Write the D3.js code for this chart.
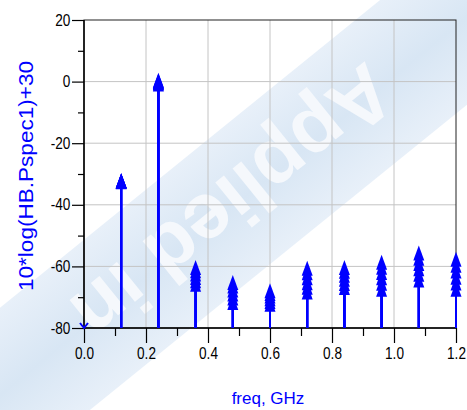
<!DOCTYPE html>
<html>
<head>
<meta charset="utf-8">
<script src="https://cdn.jsdelivr.net/npm/d3@7"></script>
<style>
  html, body { margin: 0; padding: 0; background: #fff; }
  svg { display: block; }
  .tick text { font-family: "Liberation Sans", Arial, sans-serif; font-size: 16px; fill: #000; }
</style>
</head>
<body>
<svg id="chart" width="467" height="410"></svg>
<script>
// harmonic frequencies (GHz) of the spectrum
const freqs = [0.12, 0.24, 0.36, 0.48, 0.60, 0.72, 0.84, 0.96, 1.08, 1.20];

// one row per swept value, dBm at each harmonic
const sweep1 = [-33.0, -0.4, -61.2, -66.0, -68.7, -61.4, -61.2, -59.5, -56.5, -58.5];
const sweep2 = [-33.0, -0.6, -62.2, -67.2, -69.6, -62.9, -62.4, -61.1, -58.2, -60.4];
const sweep3 = [-33.1, -0.8, -63.3, -68.5, -70.4, -64.5, -63.7, -62.8, -59.9, -62.3];
const sweep4 = [-33.1, -1.1, -64.4, -69.8, -71.3, -66.1, -65.0, -64.5, -61.6, -64.3];
const sweep5 = [-33.2, -1.3, -65.5, -71.1, -72.2, -67.6, -66.4, -66.3, -63.4, -66.2];
const sweep6 = [-33.3, -1.6, -66.6, -72.5, -73.1, -69.1, -67.7, -68.2, -65.2, -68.2];
const sweeps = [sweep1, sweep2, sweep3, sweep4, sweep5, sweep6];

// DC component, below the visible range
const dcFreq = 0.0;
const dcLevel = -120;

const xTicks = [0.0, 0.2, 0.4, 0.6, 0.8, 1.0, 1.2];
const xMinor = [0.1, 0.3, 0.5, 0.7, 0.9, 1.1];
const yTicks = [20, 0, -20, -40, -60, -80];
const yMinor = [10, -10, -30, -50, -70];

const blue = "#0000ff";
const svg = d3.select("#chart");

// faint watermark band in the background
const grad = svg.append("defs").append("linearGradient")
  .attr("id", "band").attr("x1", 0).attr("y1", 0).attr("x2", 0).attr("y2", 1);
grad.append("stop").attr("offset", 0).attr("stop-color", "#e8f0f9");
grad.append("stop").attr("offset", 0.5).attr("stop-color", "#d8e6f4");
grad.append("stop").attr("offset", 1).attr("stop-color", "#e8f0f9");

const wm = svg.append("g").attr("transform", "translate(235,205) rotate(-39)");
wm.append("rect")
  .attr("x", -420).attr("y", -68).attr("width", 840).attr("height", 136)
  .attr("fill", "url(#band)");
wm.append("text")
  .attr("transform", "rotate(180)")
  .attr("text-anchor", "middle").attr("y", 30)
  .attr("font-family", "Liberation Sans, Arial, sans-serif")
  .attr("font-weight", "bold").attr("font-size", 80)
  .attr("fill", "#f5f8fc")
  .text("Applied in");

const pL = 84, pR = 456, pT = 20, pB = 328;
const x = d3.scaleLinear().domain([0, 1.2]).range([pL, pR]);
const y = d3.scaleLinear().domain([-80, 20]).range([pB, pT]).clamp(true);

// grid
svg.append("g").selectAll("line").data(xTicks.slice(1, -1)).join("line")
  .attr("x1", d => x(d)).attr("x2", d => x(d)).attr("y1", pT).attr("y2", pB)
  .attr("stroke", "#c4c4c4").attr("stroke-width", 1);
svg.append("g").selectAll("line").data(yTicks.slice(1, -1)).join("line")
  .attr("y1", d => y(d)).attr("y2", d => y(d)).attr("x1", pL).attr("x2", pR)
  .attr("stroke", "#c4c4c4").attr("stroke-width", 1);

// frame
svg.append("rect")
  .attr("x", pL).attr("y", pT).attr("width", pR - pL).attr("height", pB - pT)
  .attr("fill", "none").attr("stroke", "#222").attr("stroke-width", 1);

// axes (labels squeezed a bit, the original uses a narrow face)
const yAx = svg.append("g").attr("transform", `translate(${pL},0)`)
  .call(d3.axisLeft(y).tickValues(yTicks).tickSize(12).tickPadding(4).tickFormat(d => String(d)));
yAx.selectAll("text").attr("transform", "scale(0.85,1)");
svg.append("g").attr("transform", `translate(${pL},0)`)
  .call(d3.axisLeft(y).tickValues(yMinor).tickSize(6).tickFormat(""));
const xAx = svg.append("g").attr("transform", `translate(0,${pB})`)
  .call(d3.axisBottom(x).tickValues(xTicks).tickSize(15).tickPadding(5).tickFormat(d3.format(".1f")));
xAx.selectAll("text").attr("transform", "scale(0.85,1)");
svg.append("g").attr("transform", `translate(0,${pB})`)
  .call(d3.axisBottom(x).tickValues(xMinor).tickSize(8).tickFormat(""));
svg.selectAll(".domain").remove();
svg.selectAll(".tick line").attr("stroke", "#000").attr("stroke-width", 1.2);

svg.append("line").attr("x1", pL).attr("x2", pL).attr("y1", pT).attr("y2", pB + 0.5)
  .attr("stroke", "#000").attr("stroke-width", 1.5);
svg.append("line").attr("x1", pL).attr("x2", pR).attr("y1", pB).attr("y2", pB)
  .attr("stroke", "#000").attr("stroke-width", 1.5);

// stems + arrow markers
const pts = [];
sweeps.forEach(s => s.forEach((v, i) => pts.push({ f: freqs[i], v })));

const marks = svg.append("g");
marks.selectAll("line").data(pts).join("line")
  .attr("x1", d => x(d.f)).attr("x2", d => x(d.f))
  .attr("y1", y(-80)).attr("y2", d => y(d.v))
  .attr("stroke", blue).attr("stroke-width", 2);

const arrow = "M0,-10L5.5,5L-5.5,5Z";
marks.selectAll("path").data(pts).join("path")
  .attr("d", arrow)
  .attr("transform", d => `translate(${x(d.f)},${y(d.v)})`)
  .attr("fill", blue);

// off-scale DC point
svg.append("path")
  .attr("d", "M-4,-5L0,0L4,-5")
  .attr("transform", `translate(${x(dcFreq)},${y(dcLevel)})`)
  .attr("fill", "none").attr("stroke", blue).attr("stroke-width", 2);

// axis titles
svg.append("text")
  .attr("x", 268).attr("y", 404).attr("text-anchor", "middle")
  .attr("font-family", "Liberation Sans, Arial, sans-serif").attr("font-size", 17)
  .attr("fill", blue).text("freq, GHz");

svg.append("text")
  .attr("transform", "translate(33,176) rotate(-90)")
  .attr("text-anchor", "middle")
  .attr("font-family", "Liberation Sans, Arial, sans-serif").attr("font-size", 21)
  .attr("textLength", 230).attr("lengthAdjust", "spacingAndGlyphs")
  .attr("fill", blue).text("10*log(HB.Pspec1)+30");
</script>
</body>
</html>
